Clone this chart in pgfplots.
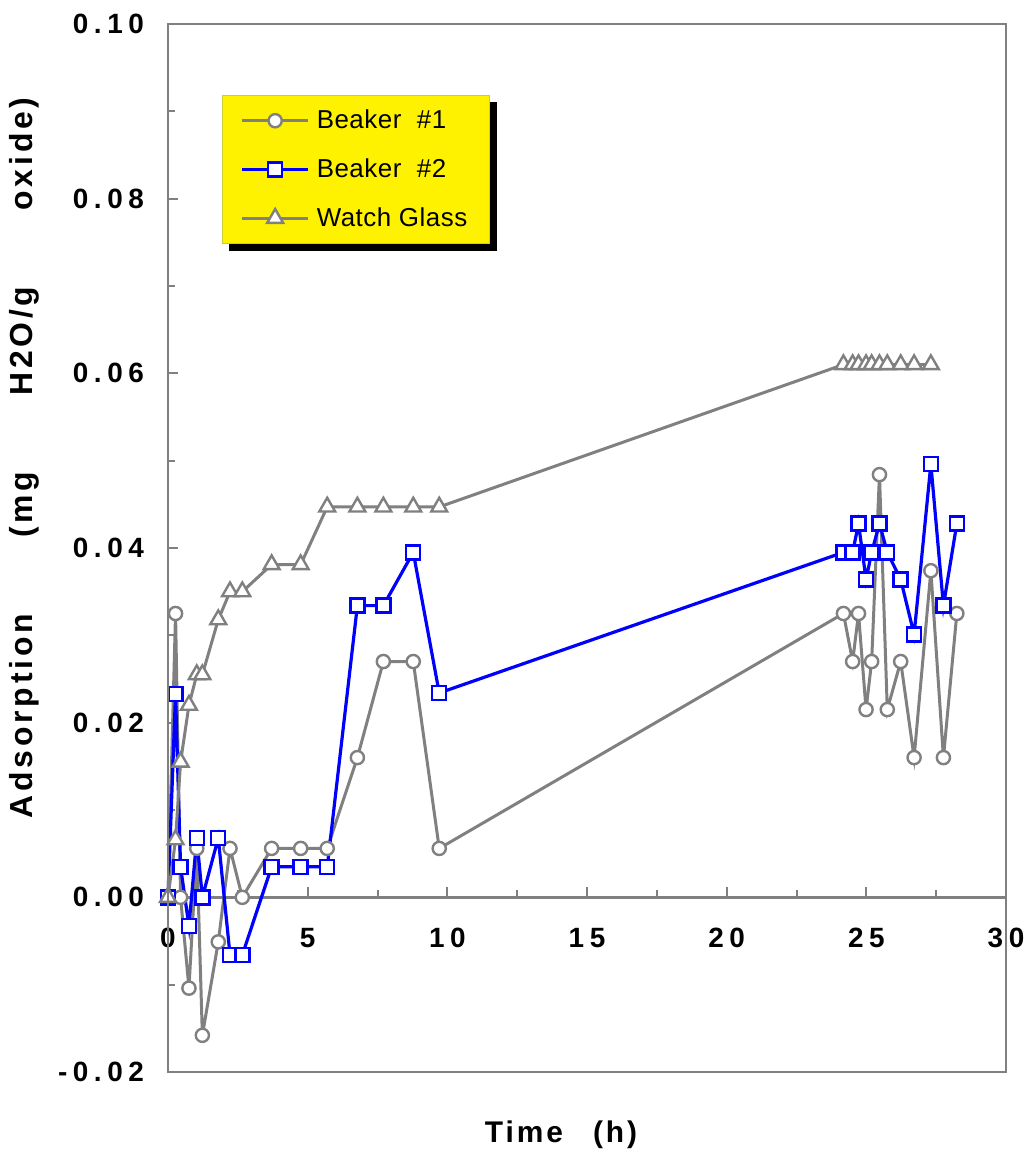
\documentclass[border=0pt]{standalone}
\usepackage{pgfplots}
\pgfplotsset{compat=1.18}
\usepackage{pgfplotstable}
\usepackage{fontspec}
\setmainfont{Liberation Sans}
\newfontfamily\spaced{Liberation Sans}[LetterSpace=20]
\newfontfamily\labfont{Liberation Sans}[LetterSpace=10]
\newfontfamily\ylabfont{Liberation Sans}[LetterSpace=12]
\newfontfamily\legfont{Liberation Sans}[LetterSpace=2]
\usetikzlibrary{backgrounds}
\definecolor{exgray}{RGB}{128,128,128}
\definecolor{exblue}{RGB}{0,0,255}

% time (h), beaker 1, beaker 2, watch glass  (mg H2O/g oxide)
\pgfplotstableread{
t     b1       b2       wg
0     0.0      0.0      0.0
0.27  0.0325   0.0233   0.0066
0.45  0.0      0.0035   0.0155
0.75  -0.0104  -0.0033  0.0220
1.03  0.0056   0.0068   0.0255
1.23  -0.0158  0.0      0.0255
1.80  -0.0051  0.0068   0.0318
2.22  0.0056   -0.0066  0.0350
2.66  0.0      -0.0066  0.0350
3.71  0.0056   0.0035   0.0381
4.75  0.0056   0.0035   0.0381
5.70  0.0056   0.0035   0.0447
6.78  0.0160   0.0334   0.0447
7.71  0.0270   0.0334   0.0447
8.78  0.0270   0.0395   0.0447
9.71  0.0056   0.0234   0.0447
24.18 0.0325   0.0395   0.0610
24.51 0.0270   0.0395   0.0610
24.72 0.0325   0.0428   0.0610
24.99 0.0215   0.0364   0.0610
25.19 0.0270   0.0395   0.0610
25.47 0.0484   0.0428   0.0610
25.75 0.0215   0.0395   0.0610
26.23 0.0270   0.0364   0.0610
26.71 0.0160   0.0301   0.0610
27.31 0.0374   0.0496   0.0610
27.76 0.0160   0.0334   nan
28.24 0.0325   0.0428   nan
}\data

\begin{document}
\begin{tikzpicture}
\path[use as bounding box] (0,0) rectangle (517bp,578.5bp);
\begin{axis}[
  at={(84bp,42.5bp)}, anchor=south west,
  scale only axis, width=419bp, height=524bp,
  xmin=0, xmax=30, ymin=-0.02, ymax=0.10,
  axis x line*=middle, axis y line*=left,
  axis line style={exgray, line width=1.3bp, -},
  hide obscured x ticks=false, hide obscured y ticks=false,
  xtick={0,5,...,30}, minor x tick num=1,
  xticklabels={0,5,10,15,20,25,30},
  ytick={-0.02,0,0.02,0.04,0.06,0.08,0.10},
  yticklabels={-0.02,0.00,0.02,0.04,0.06,0.08,0.10},
  minor y tick num=1,
  tick align=inside,
  major tick length=5bp, minor tick length=3.5bp,
  every tick/.style={exgray, line width=1bp},
  ticklabel style={font=\spaced\bfseries\fontsize{14}{16}\selectfont},
  xticklabel style={yshift=-12bp},
  yticklabel style={xshift=-8.5bp},
  xlabel={Time\hspace{15bp}(h)},
  ylabel={Adsorption\hspace{38bp}(mg\hspace{38bp}H2O/g\hspace{38bp}oxide)},
  every axis x label/.style={at={(rel axis cs:0.469,-0.060)}, anchor=center,
    font=\labfont\bfseries\fontsize{15}{17}\selectfont},
  every axis y label/.style={at={(rel axis cs:-0.171,0.586)}, rotate=90, anchor=center,
    font=\ylabfont\bfseries\fontsize{16}{18}\selectfont},
  clip=false,
  legend style={at={(rel axis cs:0.0644,0.932)}, anchor=north west, name=leg,
    fill=yellow, draw=exgray!40!yellow, line width=0.6bp,
    font=\legfont\fontsize{13}{15}\selectfont,
    inner xsep=9bp, inner ysep=5bp, row sep=9.5bp, column sep=1.5bp,
    nodes={inner sep=2bp}},
  legend cell align=left,
  legend image code/.code={\draw[mark repeat=2,mark phase=2,#1] plot coordinates {(0bp,0bp) (16.5bp,0bp) (33bp,0bp)};},
  after end axis/.code={\draw[exgray, line width=1.3bp] (rel axis cs:0,0) rectangle (rel axis cs:1,1);},
]
\addplot[exgray, line width=1.5bp, mark=*, mark size=3.3bp,
  mark options={fill=white, draw=exgray, line width=1.2bp}]
  table[x=t, y=b1] {\data};
\addlegendentry{Beaker~~\#1}
\addplot[exblue, line width=1.6bp, mark=square*, mark size=3.5bp,
  mark options={fill=white, draw=exblue, line width=1.2bp}]
  table[x=t, y=b2] {\data};
\addlegendentry{Beaker~~\#2}
\addplot[exgray, line width=1.5bp, mark=triangle*, mark size=4.6bp,
  mark options={fill=white, draw=exgray, line width=1.2bp}]
  table[x=t, y=wg] {\data};
\addlegendentry{Watch Glass}
\end{axis}
\begin{scope}[on background layer]
\fill[black] ([shift={(3.5bp,-3.5bp)}]leg.south west) rectangle ([shift={(3.5bp,-3.5bp)}]leg.north east);
\end{scope}
\end{tikzpicture}
\end{document}
